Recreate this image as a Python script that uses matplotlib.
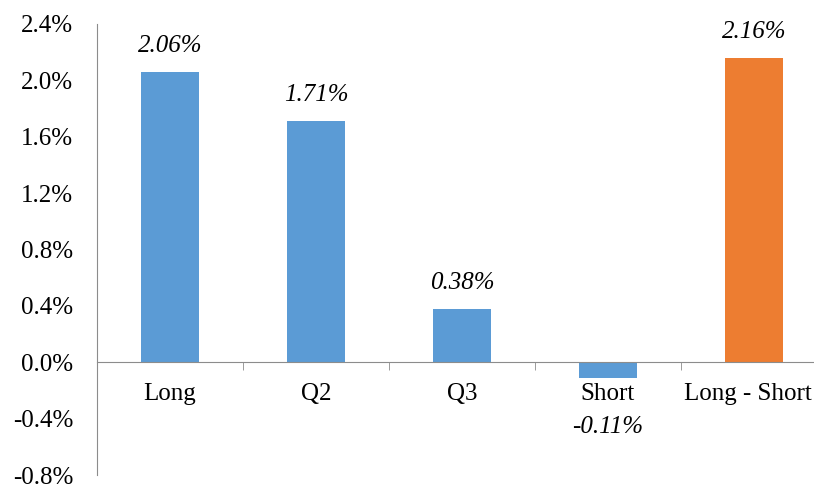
import matplotlib.pyplot as plt
import matplotlib.ticker as mticker
import matplotlib.transforms as mtransforms

plt.rcParams['font.family'] = ['Liberation Serif', 'DejaVu Serif']

categories = ['Long', 'Q2', 'Q3', 'Short', 'Long - Short']
returns = [2.06, 1.71, 0.38, -0.11, 2.16]
colors = ['#5B9BD5', '#5B9BD5', '#5B9BD5', '#5B9BD5', '#ED7D31']
yticks = [-0.8, -0.4, 0.0, 0.4, 0.8, 1.2, 1.6, 2.0, 2.4]

fig = plt.figure(figsize=(8.14, 4.87), dpi=100)
ax = fig.add_axes([97 / 814, 12 / 487, 730 / 814, 451 / 487])

x = list(range(len(categories)))
ax.bar(x, returns, width=0.4, color=colors, zorder=2)

for xi, v in zip(x, returns):
    if v >= 0:
        ax.annotate(f'{v:.2f}%', (xi, v), xytext=(0, 26), textcoords='offset pixels',
                    ha='center', va='center', fontsize=18, style='italic')
    else:
        ax.annotate(f'{v:.2f}%', (xi, 0), xytext=(0, -65), textcoords='offset pixels',
                    ha='center', va='center', fontsize=18, style='italic')

ax.set_xlim(-0.5, len(categories) - 0.5)
ax.set_ylim(-0.8, 2.4)
ax.set_yticks(yticks)
ax.yaxis.set_major_formatter(mticker.FuncFormatter(lambda v, p: f'{v:.1f}%'))

ax.set_xticks(x)
ax.set_xticklabels(categories)
ax.set_xticks([i + 0.5 for i in x[:-1]], minor=True)

for s in ['top', 'right']:
    ax.spines[s].set_visible(False)
ax.spines['bottom'].set_position(('data', 0))
ax.spines['bottom'].set_color('#8c8c8c')
ax.spines['left'].set_color('#8c8c8c')
ax.spines['bottom'].set_zorder(3)

ax.tick_params(axis='y', length=0, pad=17, labelsize=18)
ax.tick_params(axis='x', which='major', length=0, pad=15, labelsize=18)
ax.tick_params(axis='x', which='minor', length=6, color='#8c8c8c', direction='out')

# keep the last category label inside the figure edge
last = ax.get_xticklabels()[-1]
last.set_transform(last.get_transform() + mtransforms.ScaledTranslation(-6 / 100, 0, fig.dpi_scale_trans))

fig.savefig('out.png', dpi=100)
